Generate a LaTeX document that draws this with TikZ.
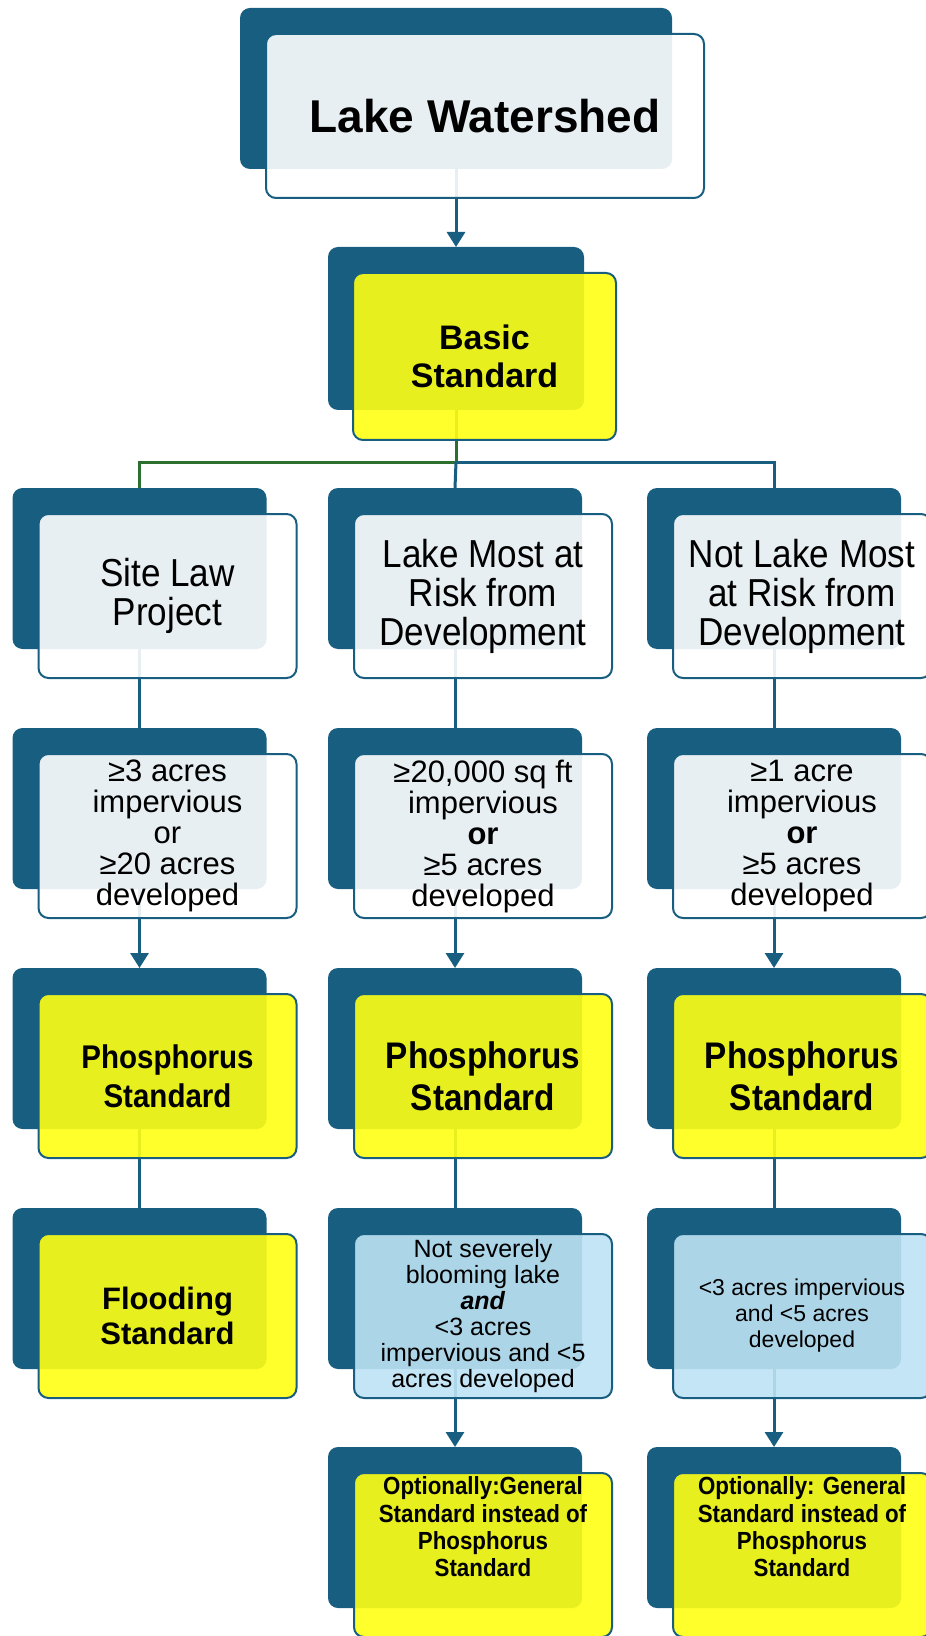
\documentclass[tikz,border=0pt]{standalone}
\usepackage{fontspec}
\setmainfont{Liberation Sans}
\newfontfamily\narrowfont[FakeStretch=0.9]{Liberation Sans}
\usepackage[svgnames]{xcolor}
\usepackage{tikz}
\usetikzlibrary{arrows.meta,backgrounds}
\definecolor{lakeBlue}{RGB}{23,94,128}
\definecolor{treeGreen}{RGB}{44,112,48}
\definecolor{standardYellow}{RGB}{255,255,20}
\definecolor{conditionBlue}{RGB}{190,226,244}
\colorlet{plainBox}{white}
\tikzset{
  back box/.style={fill=lakeBlue, rounded corners=5pt, anchor=north west,
    inner sep=0pt, minimum width=127pt, minimum height=80.5pt},
  front box/.style={draw=lakeBlue, line width=1pt, fill opacity=0.9,
    text opacity=1, rounded corners=5pt, anchor=north west, inner sep=1pt,
    align=center, minimum width=129pt, minimum height=82pt},
  white box/.style={fill=plainBox},
  yellow box/.style={fill=standardYellow},
  blue box/.style={fill=conditionBlue},
  title text/.style={font=\fontsize{23}{27}\selectfont\bfseries},
  standard text/.style={font=\fontsize{17}{19.3}\selectfont\bfseries},
  flood text/.style={font=\fontsize{15.5}{17.7}\selectfont\bfseries},
  case text/.style={font=\narrowfont\fontsize{19.5}{19.5}\selectfont},
  size text/.style={font=\fontsize{15.5}{15.5}\selectfont},
  phos text/.style={font=\narrowfont\bfseries\fontsize{18.5}{21}\selectfont},
  small phos text/.style={font=\narrowfont\bfseries\fontsize{16.4}{19.3}\selectfont},
  cond text/.style={font=\fontsize{12.5}{13}\selectfont},
  small cond text/.style={font=\fontsize{11.5}{13}\selectfont},
  opt text/.style={font=\narrowfont\bfseries\fontsize{12.4}{13.7}\selectfont, align=center},
  flow/.style={draw=lakeBlue, line width=1.5pt},
  flow arrow/.style={flow, -{Triangle[width=9pt,length=7.5pt]}},
  green flow/.style={draw=treeGreen, line width=1.5pt}
}
\begin{document}
\begin{tikzpicture}[x=0.5pt, y=-0.5pt, every node/.style={outer sep=0pt}]
\useasboundingbox (0,0) rectangle (925,1636);

% watershed and basic standard
\node[back box, minimum width=216pt] (lake-bg) at (240,8) {};
\node[front box, white box, title text, minimum width=219pt]
  (lake) at ([shift={(13pt,-13pt)}]lake-bg.north west) {Lake Watershed};
\node[back box, minimum width=128pt, minimum height=81.5pt] (basic-bg) at (328,247) {};
\node[front box, yellow box, standard text, minimum width=131.5pt, minimum height=83.5pt]
  (basic) at ([shift={(12.5pt,-13pt)}]basic-bg.north west) {Basic\\Standard};

% three kinds of project
\node[back box] (site-bg) at (12.5,488) {};
\node[front box, white box, case text] (site) at ([shift={(13pt,-13pt)}]site-bg.north west) {Site Law\\Project};
\node[back box] (risk-bg) at (328,488) {};
\node[front box, white box, case text] (risk) at ([shift={(13pt,-13pt)}]risk-bg.north west) {Lake Most at\\Risk from\\Development};
\node[back box] (norisk-bg) at (647,488) {};
\node[front box, white box, case text] (norisk) at ([shift={(13pt,-13pt)}]norisk-bg.north west) {Not Lake Most\\at Risk from\\Development};

% size thresholds
\node[back box] (site-size-bg) at (12.5,728) {};
\node[front box, white box, size text] (site-size) at ([shift={(13pt,-13pt)}]site-size-bg.north west)
  {≥3 acres\\impervious\\or\\≥20 acres\\developed};
\node[back box] (risk-size-bg) at (328,728) {};
\node[front box, white box, size text] (risk-size) at ([shift={(13pt,-13pt)}]risk-size-bg.north west)
  {≥20,000 sq ft\\impervious\\\textbf{or}\\≥5 acres\\developed};
\node[back box] (norisk-size-bg) at (647,728) {};
\node[front box, white box, size text] (norisk-size) at ([shift={(13pt,-13pt)}]norisk-size-bg.north west)
  {≥1 acre\\impervious\\\textbf{or}\\≥5 acres\\developed};

% phosphorus standard
\node[back box] (site-p-bg) at (12.5,968) {};
\node[front box, yellow box, small phos text] (site-p) at ([shift={(13pt,-13pt)}]site-p-bg.north west) {Phosphorus\\Standard};
\node[back box] (risk-p-bg) at (328,968) {};
\node[front box, yellow box, phos text] (risk-p) at ([shift={(13pt,-13pt)}]risk-p-bg.north west) {Phosphorus\\Standard};
\node[back box] (norisk-p-bg) at (647,968) {};
\node[front box, yellow box, phos text] (norisk-p) at ([shift={(13pt,-13pt)}]norisk-p-bg.north west) {Phosphorus\\Standard};

% flooding and exemptions
\node[back box] (flood-bg) at (12.5,1208) {};
\node[front box, yellow box, flood text] (flood) at ([shift={(13pt,-13pt)}]flood-bg.north west) {Flooding\\Standard};
\node[back box] (risk-cond-bg) at (328,1208) {};
\node[front box, blue box, cond text] (risk-cond) at ([shift={(13pt,-13pt)}]risk-cond-bg.north west)
  {Not severely\\blooming lake\\\textbf{\textit{and}}\\<3 acres\\impervious and <5\\acres developed};
\node[back box] (norisk-cond-bg) at (647,1208) {};
\node[front box, blue box, small cond text] (norisk-cond) at ([shift={(13pt,-13pt)}]norisk-cond-bg.north west)
  {<3 acres impervious\\and <5 acres\\developed};

% optional general standard
\node[back box] (risk-opt-bg) at (328,1447) {};
\node[front box, yellow box] (risk-opt) at ([shift={(13pt,-13pt)}]risk-opt-bg.north west) {};
\node[opt text] (risk-opt-txt) at ([yshift=14pt]risk-opt.center)
  {Optionally:General\\Standard instead of\\Phosphorus\\Standard};
\node[back box] (norisk-opt-bg) at (647,1447) {};
\node[front box, yellow box] (norisk-opt) at ([shift={(13pt,-13pt)}]norisk-opt-bg.north west) {};
\node[opt text] (norisk-opt-txt) at ([yshift=14pt]norisk-opt.center)
  {Optionally: General\\Standard instead of\\Phosphorus\\Standard};

\coordinate (split) at ([yshift=-26pt]basic-bg.south);

\begin{scope}[on background layer]
\draw[flow arrow] (lake-bg.south) -- (basic-bg.north);
\draw[green flow] (basic-bg.south) -- (split) -| (site-bg.north);
\draw[flow] (split) -| (norisk-bg.north);
\draw[flow] (split) -- (risk-bg.north);
\foreach \col in {site,risk,norisk} {
  \draw[flow] (\col-bg.south) -- (\col-size-bg.north);
  \draw[flow arrow] (\col-size-bg.south) -- (\col-p-bg.north);
}
\draw[flow] (site-p-bg.south) -- (flood-bg.north);
\foreach \col in {risk,norisk} {
  \draw[flow] (\col-p-bg.south) -- (\col-cond-bg.north);
  \draw[flow arrow] (\col-cond-bg.south) -- (\col-opt-bg.north);
}
\end{scope}
\end{tikzpicture}
\end{document}
